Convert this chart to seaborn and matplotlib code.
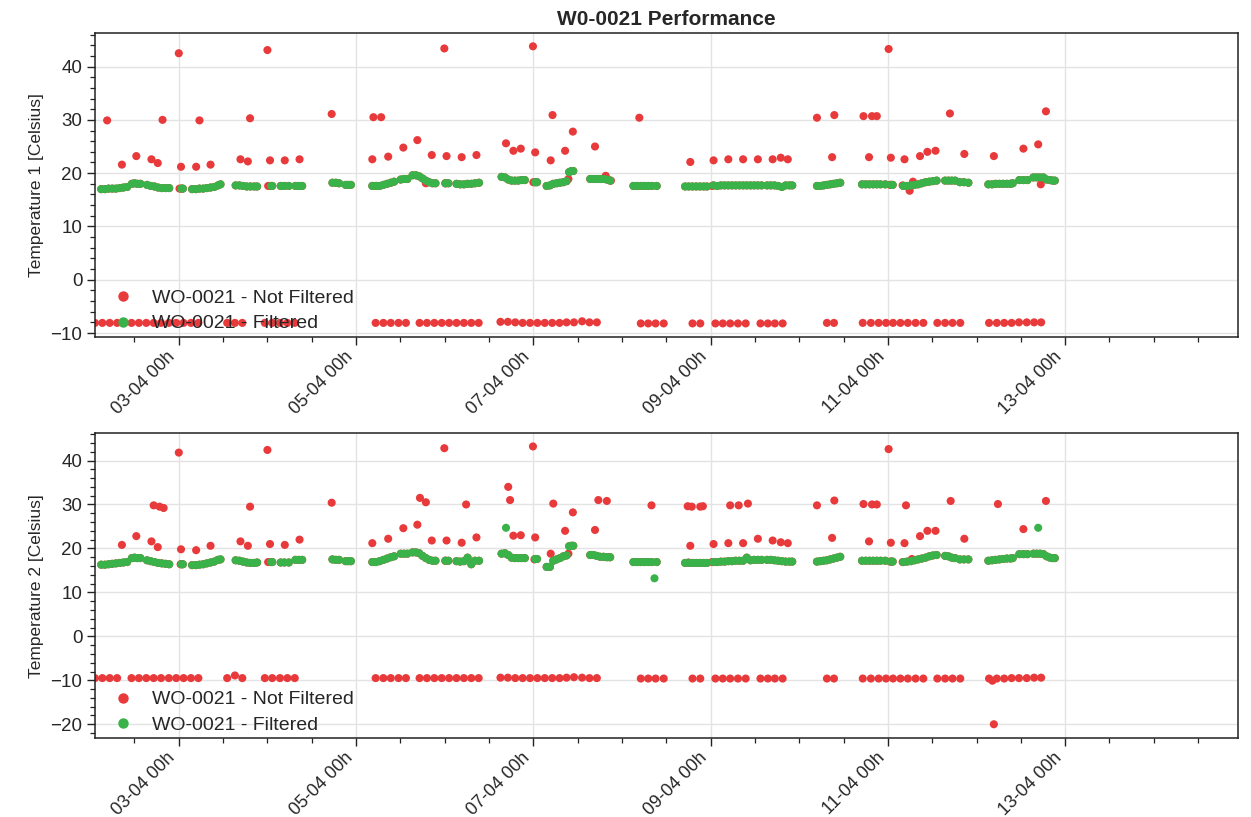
import numpy as np
import pandas as pd
import matplotlib
matplotlib.use("Agg")
import matplotlib.pyplot as plt
import matplotlib.dates as mdates
from matplotlib.ticker import MultipleLocator
import seaborn as sns

# ---------------- data (hours relative to 03-04 00h) ----------------
label_raw = "WO-0021 - Not Filtered"
label_filt = "WO-0021 - Filtered"
title_text = "W0-0021 Performance"
ylabels = ["Temperature 1 [Celsius]", "Temperature 2 [Celsius]"]

# error / fault readings (same timestamps for both sensors)
err_hours = [-22.7, -20.7, -18.7, -16.7, -12.8, -10.8, -8.8, -6.8, -4.8, -2.7, -0.7, 1.3, 3.3, 5.3,
             13.1, 15.2, 17.2,
             23.3, 25.3, 27.4, 29.4, 31.4,
             53.3, 55.4, 57.4, 59.5, 61.5,
             65.2, 67.2, 69.2, 71.2, 73.2, 75.2, 77.2, 79.2, 81.2,
             87.1, 89.1, 91.1, 93.1, 95.1, 97.1, 99.1, 101.1, 103.1, 105.0, 107.0, 109.2, 111.2, 113.2,
             125.1, 127.1, 129.1, 131.3,
             139.1, 141.2,
             145.3, 147.3, 149.3, 151.4, 153.5,
             157.5, 159.5, 161.4, 163.5,
             175.5, 177.4,
             185.2, 187.4, 189.5, 191.5, 193.4, 195.4, 197.4, 199.5, 201.6,
             205.4, 207.5, 209.5, 211.6,
             219.4, 221.5, 223.5, 225.5, 227.5, 229.6, 231.6, 233.5]
t1_err = [-8.1, -8.1, -8.1, -8.1, -8.1, -8.1, -8.1, -8.1, -8.1, -8.1, -8.1, -8.1, -8.1, -8.1,
          -8.1, -8.1, -8.1,
          -8.1, -8.1, -8.1, -8.1, -8.1,
          -8.1, -8.1, -8.1, -8.1, -8.1,
          -8.1, -8.1, -8.1, -8.1, -8.1, -8.1, -8.1, -8.1, -8.1,
          -7.9, -7.9, -8.0, -8.1, -8.1, -8.1, -8.1, -8.1, -8.1, -8.0, -8.0, -7.8, -8.0, -8.0,
          -8.2, -8.2, -8.2, -8.2,
          -8.2, -8.2,
          -8.2, -8.2, -8.2, -8.2, -8.2,
          -8.2, -8.2, -8.2, -8.2,
          -8.1, -8.1,
          -8.1, -8.1, -8.1, -8.1, -8.1, -8.1, -8.1, -8.1, -8.1,
          -8.1, -8.1, -8.1, -8.1,
          -8.1, -8.1, -8.1, -8.1, -8.0, -8.0, -8.0, -8.0]
t2_err = [-9.5, -9.5, -9.5, -9.5, -9.5, -9.5, -9.5, -9.5, -9.5, -9.5, -9.5, -9.5, -9.5, -9.5,
          -9.5, -8.9, -9.5,
          -9.5, -9.5, -9.5, -9.5, -9.5,
          -9.5, -9.5, -9.5, -9.5, -9.5,
          -9.5, -9.5, -9.5, -9.5, -9.5, -9.5, -9.5, -9.5, -9.5,
          -9.4, -9.4, -9.5, -9.5, -9.5, -9.5, -9.5, -9.5, -9.5, -9.4, -9.3, -9.4, -9.5, -9.5,
          -9.6, -9.6, -9.6, -9.6,
          -9.6, -9.6,
          -9.6, -9.6, -9.6, -9.6, -9.6,
          -9.6, -9.6, -9.6, -9.6,
          -9.6, -9.6,
          -9.6, -9.6, -9.6, -9.6, -9.6, -9.6, -9.6, -9.6, -9.6,
          -9.6, -9.6, -9.6, -9.6,
          -9.6, -9.6, -9.6, -9.5, -9.5, -9.5, -9.4, -9.4]

# unfiltered outliers / isolated readings
t1_spike_hours = [-19.4, -15.4, -11.5, -7.4, -5.7, -4.4, 0.0, 0.6, 0.2, 4.7, 5.6, 8.6, 16.7, 18.7, 19.3,
                  24.0, 24.7, 24.2, 28.7, 32.7, 41.4, 52.7, 54.8, 52.4, 56.7, 60.8, 64.6, 66.9, 68.5,
                  71.9, 72.5, 72.2, 76.6, 80.6, 88.6, 90.6, 92.6, 95.9, 96.5, 96.0, 100.7, 101.2, 104.6,
                  105.5, 106.7, 112.7, 115.6, 117.0, 124.7, 138.5, 144.8, 144.4, 148.8, 152.8, 156.8,
                  160.8, 163.0, 164.9, 172.8, 177.5, 176.9, 185.4, 187.7, 189.0, 186.9, 192.2, 192.8,
                  192.6, 196.5, 196.0, 197.9, 198.8, 200.7, 202.7, 204.9, 208.8, 212.7, 220.7, 228.7,
                  232.7, 233.4, 234.8]
t1_spike_vals = [29.9, 21.6, 23.2, 22.6, 21.9, 30.0, 42.5, 21.2, 17.1, 21.2, 29.9, 21.6, 22.6, 22.2, 30.3,
                 43.1, 22.4, 17.6, 22.4, 22.6, 31.1, 30.5, 30.5, 22.6, 23.1, 24.8, 26.2, 18.1, 23.4,
                 43.4, 23.2, 18.1, 23.0, 23.4, 25.6, 24.2, 24.6, 43.8, 23.9, 18.3, 22.4, 30.9, 24.2,
                 18.9, 27.8, 25.0, 19.5, 18.6, 30.4, 22.1, 22.4, 17.6, 22.6, 22.6, 22.6,
                 22.6, 22.9, 22.6, 30.4, 30.9, 23.0, 30.7, 30.7, 30.7, 23.0, 43.3, 22.9,
                 17.8, 22.6, 17.7, 16.7, 18.4, 23.2, 24.0, 24.2, 31.2, 23.6, 23.2, 24.6,
                 25.4, 17.9, 31.6]
t2_spike_hours = [-15.4, -11.5, -7.4, -5.7, -6.8, -5.2, -4.1, 0.0, 0.6, 0.5, 4.7, 8.6, 16.7, 18.7, 19.3,
                  24.0, 24.7, 24.2, 28.7, 32.7, 41.4, 52.4, 56.7, 60.8, 64.6, 65.3, 66.9, 68.5, 71.9,
                  72.5, 72.2, 76.6, 77.8, 80.6, 89.2, 89.7, 90.6, 92.6, 95.9, 96.5, 96.3, 100.7, 101.4,
                  104.6, 105.5, 106.7, 112.7, 113.6, 115.9, 116.6, 128.0, 137.8, 138.9, 138.5, 138.0,
                  141.2, 141.9, 144.8, 144.4, 148.8, 149.3, 151.6, 152.8, 154.1, 156.8, 160.8, 163.0,
                  164.9, 172.8, 177.5, 176.9, 185.4, 187.7, 189.0, 186.9, 192.2, 192.8, 192.6, 196.5,
                  196.9, 196.0, 198.5, 200.7, 202.7, 204.9, 209.0, 212.7, 220.3, 220.7, 221.8, 228.7,
                  234.8]
t2_spike_vals = [20.8, 22.8, 21.6, 20.3, 29.8, 29.5, 29.2, 41.8, 19.8, 16.4, 19.6, 20.6, 21.6, 20.6, 29.5,
                 42.4, 21.0, 16.9, 20.8, 22.0, 30.4, 21.2, 22.2, 24.6, 25.4, 31.5, 30.5, 21.8, 42.8,
                 21.8, 17.2, 21.3, 30.0, 22.5, 34.0, 31.0, 22.9, 23.0, 43.2, 22.5, 17.5, 18.8, 30.2,
                 24.0, 18.8, 28.2, 24.2, 31.0, 30.8, 18.0, 29.8, 29.6, 29.5, 20.6, 16.8,
                 29.5, 29.6, 21.0, 16.9, 21.2, 29.8, 29.8, 21.2, 30.2, 22.2, 21.8, 21.4,
                 21.2, 29.8, 30.9, 22.4, 30.1, 30.0, 30.0, 21.6, 42.6, 21.3, 17.0, 21.2,
                 29.8, 16.9, 17.6, 22.8, 24.0, 24.0, 30.8, 22.2, -10.1, -20.0, 30.1, 24.4,
                 30.8]

# filtered readings (shared timestamps)
green_hours = [-21, -20, -19, -18, -17, -16, -15, -14,
               -12.7, -12.0, -11.2, -10.4,
               -8.6, -7.6, -6.6, -5.6, -4.6, -3.6, -2.6,
               0.7, 1.1,
               3.6, 4.6, 5.6, 6.6, 7.6, 8.6, 9.6, 10.6, 11.3,
               15.4, 16.4, 17.4, 18.4, 19.4, 20.4, 21.2,
               25.0, 25.3,
               27.6, 28.6, 29.8,
               31.6, 32.5, 33.4,
               41.6, 42.5, 43.4,
               45.2, 45.9, 46.6,
               52.4, 53.4, 54.4, 55.4, 56.4, 57.4, 58.3,
               60.1, 61.0, 61.9,
               63.3, 64.2, 65.1, 66.0, 66.9, 67.8, 68.7, 69.5,
               72.2, 73.0,
               75.2, 76.2, 77.2, 78.2, 79.2, 80.2, 81.3,
               87.4, 88.3, 89.2, 90.1, 91.0, 91.9, 92.8, 93.7,
               96.5, 97.0,
               99.6, 100.5, 101.4, 102.3, 103.2, 104.1, 105.0, 105.7, 106.3, 106.8,
               111.4, 112.3, 113.2, 114.1, 115.0, 115.9, 116.8,
               123.1, 124.1, 125.1, 126.1, 127.1, 128.1, 129.4,
               137.1, 138.1, 139.1, 140.1, 141.1, 142.1, 143.0,
               144.8, 145.8, 146.8, 147.8, 148.8, 149.8, 150.8, 151.8, 152.8, 153.8, 154.8, 155.8, 156.8, 157.8,
               159.3, 160.3, 161.3, 162.3, 163.3, 164.3, 165.3, 166.1,
               172.8, 173.7, 174.6, 175.5, 176.4, 177.3, 178.2, 179.1,
               185.0, 186.0, 187.0, 188.0, 189.0, 190.0, 191.3,
               192.9, 193.3,
               196.2, 197.2, 198.2, 199.2, 200.2, 201.2, 202.2, 203.2, 204.2, 205.2,
               207.5, 208.4, 209.3, 210.2,
               211.5, 212.6, 213.8,
               219.2, 220.2, 221.2, 222.2, 223.2, 224.2, 225.2, 225.8,
               227.6, 228.7, 229.8,
               231.4, 232.3, 233.2, 234.1, 235.0, 235.9, 236.6, 237.2]
t1_green = [17.0, 17.0, 17.1, 17.1, 17.1, 17.2, 17.3, 17.4,
            18.0, 18.1, 18.0, 18.0,
            17.8, 17.6, 17.5, 17.3, 17.2, 17.2, 17.2,
            17.1, 17.1,
            17.0, 17.0, 17.1, 17.1, 17.2, 17.3, 17.4, 17.7, 17.9,
            17.7, 17.7, 17.6, 17.5, 17.5, 17.5, 17.5,
            17.6, 17.6,
            17.6, 17.6, 17.6,
            17.6, 17.6, 17.6,
            18.2, 18.2, 18.1,
            17.8, 17.8, 17.8,
            17.6, 17.6, 17.6, 17.8, 18.0, 18.2, 18.4,
            18.8, 18.9, 18.9,
            19.6, 19.6, 19.4, 19.0, 18.6, 18.3, 18.1, 18.1,
            18.1, 18.1,
            18.0, 17.9, 17.9, 18.0, 18.0, 18.1, 18.2,
            19.3, 19.2, 18.8, 18.6, 18.6, 18.6, 18.7, 18.7,
            18.3, 18.3,
            17.6, 17.7, 18.0, 18.1, 18.2, 18.3, 18.5, 20.2, 20.4, 20.4,
            18.9, 18.9, 18.9, 18.9, 18.9, 18.8, 18.6,
            17.6, 17.6, 17.6, 17.6, 17.6, 17.6, 17.6,
            17.5, 17.5, 17.5, 17.5, 17.5, 17.5, 17.5,
            17.7, 17.6, 17.7, 17.7, 17.7, 17.7, 17.7, 17.7, 17.7, 17.7, 17.7, 17.7, 17.7, 17.7,
            17.7, 17.7, 17.7, 17.6, 17.4, 17.7, 17.7, 17.7,
            17.6, 17.6, 17.7, 17.8, 17.9, 18.0, 18.1, 18.2,
            17.9, 17.9, 17.9, 17.9, 17.9, 17.9, 17.9,
            17.8, 17.8,
            17.6, 17.6, 17.7, 17.8, 17.9, 18.1, 18.3, 18.4, 18.5, 18.6,
            18.6, 18.6, 18.6, 18.6,
            18.3, 18.3, 18.2,
            17.9, 17.9, 18.0, 18.0, 18.0, 18.0, 18.0, 18.1,
            18.7, 18.7, 18.7,
            19.2, 19.2, 19.2, 19.2, 18.8, 18.7, 18.6, 18.6]
t2_green = [16.3, 16.3, 16.4, 16.5, 16.6, 16.7, 16.8, 16.9,
            17.8, 17.9, 17.8, 17.8,
            17.3, 17.1, 16.9, 16.7, 16.6, 16.5, 16.4,
            16.4, 16.4,
            16.2, 16.2, 16.3, 16.4, 16.6, 16.8, 17.0, 17.4, 17.5,
            17.3, 17.2, 17.0, 16.8, 16.7, 16.7, 16.8,
            16.9, 16.9,
            16.8, 16.8, 16.8,
            17.4, 17.4, 17.4,
            17.5, 17.4, 17.4,
            17.1, 17.1, 17.1,
            16.9, 16.9, 17.1, 17.4, 17.7, 18.0, 18.2,
            18.8, 18.8, 18.8,
            19.1, 19.1, 18.9, 18.3, 17.8, 17.4, 17.2, 17.2,
            17.2, 17.2,
            17.1, 17.0, 17.1, 17.9, 16.4, 17.2, 17.2,
            18.8, 18.9, 18.5, 17.9, 17.8, 17.8, 17.8, 17.8,
            17.6, 17.6,
            15.8, 15.8, 17.2, 17.5, 17.8, 18.2, 18.4, 20.5, 20.6, 20.6,
            18.5, 18.5, 18.3, 18.1, 18.1, 18.0, 18.0,
            16.9, 16.9, 16.9, 16.9, 16.9, 16.9, 16.9,
            16.7, 16.7, 16.7, 16.7, 16.7, 16.7, 16.7,
            16.9, 16.9, 17.0, 17.0, 17.1, 17.1, 17.2, 17.2, 17.2, 17.9, 17.3, 17.4, 17.4, 17.4,
            17.4, 17.4, 17.3, 17.2, 17.1, 17.0, 17.0, 17.0,
            17.0, 17.1, 17.2, 17.3, 17.5, 17.7, 17.9, 18.1,
            17.2, 17.2, 17.2, 17.2, 17.2, 17.2, 17.2,
            17.0, 17.0,
            16.9, 17.0, 17.1, 17.3, 17.5, 17.7, 17.9, 18.2, 18.4, 18.5,
            18.3, 18.2, 17.9, 17.8,
            17.5, 17.5, 17.5,
            17.2, 17.3, 17.4, 17.5, 17.6, 17.7, 17.7, 17.8,
            18.7, 18.7, 18.7,
            18.8, 18.8, 18.8, 18.7, 18.2, 17.9, 17.8, 17.8]
t2_green_extra_hours = [88.6, 128.8, 232.7]
t2_green_extra_vals = [24.7, 13.2, 24.7]

xlim_hours = (-22.7, 286.8)
ylims = [(-10.75, 46.3), (-23.2, 46.2)]

# ---------------- build frames ----------------
base = pd.Timestamp("2021-04-03 00:00")


def to_time(hours):
    return base + pd.to_timedelta(np.asarray(hours, dtype=float), unit="h")


def make_frame(err_vals, spike_h, spike_v, green_v, extra_h, extra_v):
    raw_h = list(err_hours) + list(spike_h) + list(green_hours)
    raw_v = list(err_vals) + list(spike_v) + list(green_v)
    filt_h = list(green_hours) + list(extra_h)
    filt_v = list(green_v) + list(extra_v)
    d1 = pd.DataFrame({"time": to_time(raw_h), "value": raw_v, "series": label_raw})
    d2 = pd.DataFrame({"time": to_time(filt_h), "value": filt_v, "series": label_filt})
    return pd.concat([d1, d2], ignore_index=True)


frames = [
    make_frame(t1_err, t1_spike_hours, t1_spike_vals, t1_green, [], []),
    make_frame(t2_err, t2_spike_hours, t2_spike_vals, t2_green, t2_green_extra_hours, t2_green_extra_vals),
]

# ---------------- style ----------------
sns.set_theme(style="white")
plt.rcParams["font.family"] = ["Liberation Sans", "DejaVu Sans"]
plt.rcParams["axes.edgecolor"] = "#222222"
plt.rcParams["axes.linewidth"] = 1.1

red = "#e8393b"
green = "#38b249"
palette = {label_raw: red, label_filt: green}

fig = plt.figure(figsize=(12.51, 8.17), dpi=100)
axes = [fig.add_axes([0.0759, 0.5875, 0.9137, 0.3721]),
        fig.add_axes([0.0759, 0.0963, 0.9137, 0.3734])]

for i, ax in enumerate(axes):
    sns.scatterplot(data=frames[i], x="time", y="value", hue="series", palette=palette,
                    s=34, linewidth=0, alpha=1.0, ax=ax, legend=True)
    ax.set_xlim(to_time([xlim_hours[0]])[0], to_time([xlim_hours[1]])[0])
    ax.set_ylim(*ylims[i])
    ax.xaxis.set_major_locator(mdates.DayLocator(bymonthday=range(1, 32, 2)))
    ax.xaxis.set_minor_locator(mdates.HourLocator(byhour=[0, 12]))
    ax.xaxis.set_major_formatter(mdates.DateFormatter("%d-%m %Hh"))
    ax.yaxis.set_major_locator(MultipleLocator(10))
    ax.yaxis.set_minor_locator(MultipleLocator(2))
    ax.grid(True, which="major", color="#e3e3e3", linewidth=1.0)
    ax.set_axisbelow(True)
    ax.tick_params(axis="y", which="major", direction="out", length=6, width=1.0,
                   labelsize=13.5, color="#222222", left=True, pad=3)
    ax.tick_params(axis="x", which="major", direction="out", length=6, width=1.0,
                   labelsize=13, color="#222222", bottom=True, pad=2)
    ax.tick_params(axis="both", which="minor", direction="out", length=3.5, width=0.9,
                   color="#222222", bottom=True, left=True)
    for lab in ax.get_xticklabels():
        lab.set_rotation(45)
        lab.set_ha("right")
    ax.set_xlabel("")
    ax.set_ylabel(ylabels[i], fontsize=12.5, labelpad=5)
    sns.move_legend(ax, "lower left", bbox_to_anchor=(0.0, -0.032), frameon=False, title=None,
                    fontsize=14, handlelength=1.4, handletextpad=0.8, borderaxespad=0.34,
                    labelspacing=0.4)
    for h in ax.get_legend().legend_handles:
        h.set_markersize(7.5)

axes[0].set_title(title_text, fontsize=15, fontweight="bold", pad=6)

fig.savefig("out.png", dpi=100)
